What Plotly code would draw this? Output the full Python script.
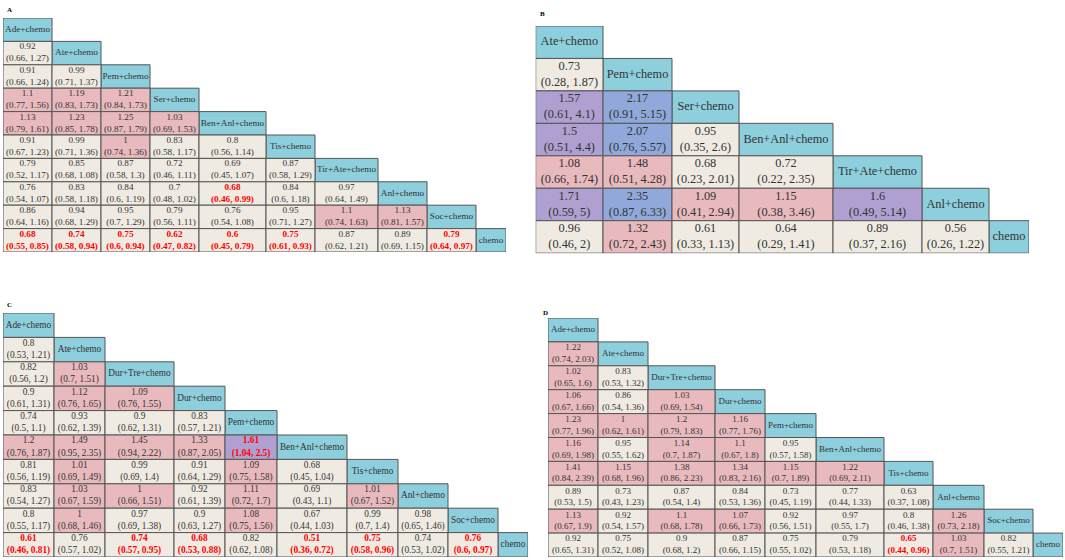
import plotly.graph_objects as go

# ---------------- DATA ----------------
A_trt = ["Ade+chemo", "Ate+chemo", "Pem+chemo", "Ser+chemo", "Ben+Anl+chemo",
         "Tis+chemo", "Tir+Ate+chemo", "Anl+chemo", "Soc+chemo", "chemo"]
A_hr = [[0.92],
        [0.91, 0.99],
        [1.1, 1.19, 1.21],
        [1.13, 1.23, 1.25, 1.03],
        [0.91, 0.99, 1, 0.83, 0.8],
        [0.79, 0.85, 0.87, 0.72, 0.69, 0.87],
        [0.76, 0.83, 0.84, 0.7, 0.68, 0.84, 0.97],
        [0.86, 0.94, 0.95, 0.79, 0.76, 0.95, 1.1, 1.13],
        [0.68, 0.74, 0.75, 0.62, 0.6, 0.75, 0.87, 0.89, 0.79]]
A_lo = [[0.66],
        [0.66, 0.71],
        [0.77, 0.83, 0.84],
        [0.79, 0.85, 0.87, 0.69],
        [0.67, 0.71, 0.74, 0.58, 0.56],
        [0.52, 0.68, 0.58, 0.46, 0.45, 0.58],
        [0.54, 0.58, 0.6, 0.48, 0.46, 0.6, 0.64],
        [0.64, 0.68, 0.7, 0.56, 0.54, 0.71, 0.74, 0.81],
        [0.55, 0.58, 0.6, 0.47, 0.45, 0.61, 0.62, 0.69, 0.64]]
A_hi = [[1.27],
        [1.24, 1.37],
        [1.56, 1.73, 1.73],
        [1.61, 1.78, 1.79, 1.53],
        [1.23, 1.36, 1.36, 1.17, 1.14],
        [1.17, 1.08, 1.3, 1.11, 1.07, 1.29],
        [1.07, 1.18, 1.19, 1.02, 0.99, 1.18, 1.49],
        [1.16, 1.29, 1.29, 1.11, 1.08, 1.27, 1.63, 1.57],
        [0.85, 0.94, 0.94, 0.82, 0.79, 0.93, 1.21, 1.15, 0.97]]

B_trt = ["Ate+chemo", "Pem+chemo", "Ser+chemo", "Ben+Anl+chemo",
         "Tir+Ate+chemo", "Anl+chemo", "chemo"]
B_hr = [[0.73],
        [1.57, 2.17],
        [1.5, 2.07, 0.95],
        [1.08, 1.48, 0.68, 0.72],
        [1.71, 2.35, 1.09, 1.15, 1.6],
        [0.96, 1.32, 0.61, 0.64, 0.89, 0.56]]
B_lo = [[0.28],
        [0.61, 0.91],
        [0.51, 0.76, 0.35],
        [0.66, 0.51, 0.23, 0.22],
        [0.59, 0.87, 0.41, 0.38, 0.49],
        [0.46, 0.72, 0.33, 0.29, 0.37, 0.26]]
B_hi = [[1.87],
        [4.1, 5.15],
        [4.4, 5.57, 2.6],
        [1.74, 4.28, 2.01, 2.35],
        [5, 6.33, 2.94, 3.46, 5.14],
        [2, 2.43, 1.13, 1.41, 2.16, 1.22]]

C_trt = ["Ade+chemo", "Ate+chemo", "Dur+Tre+chemo", "Dur+chemo", "Pem+chemo",
         "Ben+Anl+chemo", "Tis+chemo", "Anl+chemo", "Soc+chemo", "chemo"]
C_hr = [[0.8],
        [0.82, 1.03],
        [0.9, 1.12, 1.09],
        [0.74, 0.93, 0.9, 0.83],
        [1.2, 1.49, 1.45, 1.33, 1.61],
        [0.81, 1.01, 0.99, 0.91, 1.09, 0.68],
        [0.83, 1.03, 1, 0.92, 1.11, 0.69, 1.01],
        [0.8, 1, 0.97, 0.9, 1.08, 0.67, 0.99, 0.98],
        [0.61, 0.76, 0.74, 0.68, 0.82, 0.51, 0.75, 0.74, 0.76]]
C_lo = [[0.53],
        [0.56, 0.7],
        [0.61, 0.76, 0.76],
        [0.5, 0.62, 0.62, 0.57],
        [0.76, 0.95, 0.94, 0.87, 1.04],
        [0.56, 0.69, 0.69, 0.64, 0.75, 0.45],
        [0.54, 0.67, 0.66, 0.61, 0.72, 0.43, 0.67],
        [0.55, 0.68, 0.69, 0.63, 0.75, 0.44, 0.7, 0.65],
        [0.46, 0.57, 0.57, 0.53, 0.62, 0.36, 0.58, 0.53, 0.6]]
C_hi = [[1.21],
        [1.2, 1.51],
        [1.31, 1.65, 1.55],
        [1.1, 1.39, 1.31, 1.21],
        [1.87, 2.35, 2.22, 2.05, 2.5],
        [1.19, 1.49, 1.4, 1.29, 1.58, 1.04],
        [1.27, 1.59, 1.51, 1.39, 1.7, 1.1, 1.52],
        [1.17, 1.46, 1.38, 1.27, 1.56, 1.03, 1.4, 1.46],
        [0.81, 1.02, 0.95, 0.88, 1.08, 0.72, 0.96, 1.02, 0.97]]

D_trt = ["Ade+chemo", "Ate+chemo", "Dur+Tre+chemo", "Dur+chemo", "Pem+chemo",
         "Ben+Anl+chemo", "Tis+chemo", "Anl+chemo", "Soc+chemo", "chemo"]
D_hr = [[1.22],
        [1.02, 0.83],
        [1.06, 0.86, 1.03],
        [1.23, 1, 1.2, 1.16],
        [1.16, 0.95, 1.14, 1.1, 0.95],
        [1.41, 1.15, 1.38, 1.34, 1.15, 1.22],
        [0.89, 0.73, 0.87, 0.84, 0.73, 0.77, 0.63],
        [1.13, 0.92, 1.1, 1.07, 0.92, 0.97, 0.8, 1.26],
        [0.92, 0.75, 0.9, 0.87, 0.75, 0.79, 0.65, 1.03, 0.82]]
D_lo = [[0.74],
        [0.65, 0.53],
        [0.67, 0.54, 0.69],
        [0.77, 0.62, 0.79, 0.77],
        [0.69, 0.55, 0.7, 0.67, 0.57],
        [0.84, 0.68, 0.86, 0.83, 0.7, 0.69],
        [0.53, 0.43, 0.54, 0.53, 0.45, 0.44, 0.37],
        [0.67, 0.54, 0.68, 0.66, 0.56, 0.55, 0.46, 0.73],
        [0.65, 0.52, 0.68, 0.66, 0.55, 0.53, 0.44, 0.7, 0.55]]
D_hi = [[2.03],
        [1.6, 1.32],
        [1.66, 1.36, 1.54],
        [1.96, 1.61, 1.83, 1.76],
        [1.98, 1.62, 1.87, 1.8, 1.58],
        [2.39, 1.96, 2.23, 2.16, 1.89, 2.11],
        [1.5, 1.23, 1.4, 1.36, 1.19, 1.33, 1.08],
        [1.9, 1.57, 1.78, 1.73, 1.51, 1.7, 1.38, 2.18],
        [1.31, 1.08, 1.2, 1.15, 1.02, 1.18, 0.96, 1.51, 1.21]]

# ---------------- STYLE / LAYOUT ----------------
W, H = 1065, 560
FONT = "Liberation Serif"
HEADER_FILL = "#8dcfdd"
BEIGE = "#efebe2"
PINK = "#e9babd"
PURPLE = "#b0a0d1"
BLUE = "#90a9da"
GRID = "#555555"
TXT = "#333333"
RED = "#ff0000"


def cell_fill(v):
    if v < 1:
        return BEIGE
    if v < 1.5:
        return PINK
    if v < 2:
        return PURPLE
    return BLUE


panels = [
    dict(name="A", trt=A_trt, hr=A_hr, lo=A_lo, hi=A_hi, left=3, top=18, rh=23.4,
         widths=[49, 49, 49, 49, 67, 49, 63, 49, 49, 30], fs=9.2, lab=(5, 10)),
    dict(name="B", trt=B_trt, hr=B_hr, lo=B_lo, hi=B_hi, left=535.7, top=26, rh=32.45,
         widths=[67.3, 69, 67, 94, 89, 67, 40], fs=12.3, lab=(538, 14)),
    dict(name="C", trt=C_trt, hr=C_hr, lo=C_lo, hi=C_hi, left=3, top=313, rh=24.4,
         widths=[51, 51, 69, 51, 52, 70, 51, 50, 50, 30], fs=9.3, lab=(5, 305)),
    dict(name="D", trt=D_trt, hr=D_hr, lo=D_lo, hi=D_hi, left=548, top=318, rh=23.9,
         widths=[50, 50, 67, 50, 51, 68, 49, 51, 49, 30], fs=9.0, lab=(541, 313)),
]

fig = go.Figure()
shapes = []
annotations = []
layout_axes = {}

for k, p in enumerate(panels, start=1):
    sfx = "" if k == 1 else str(k)
    xref, yref = "x" + sfx, "y" + sfx
    n = len(p["trt"])
    edges = [0.0]
    for w in p["widths"]:
        edges.append(edges[-1] + w)
    total_w = edges[-1]
    x0p = p["left"] / W
    x1p = (p["left"] + total_w) / W
    y1p = 1 - p["top"] / H
    y0p = 1 - (p["top"] + n * p["rh"]) / H
    layout_axes["xaxis" + sfx] = dict(domain=[x0p, x1p], range=[0, total_w], visible=False,
                                      fixedrange=True, anchor=yref)
    layout_axes["yaxis" + sfx] = dict(domain=[y0p, y1p], range=[n, 0], visible=False,
                                      fixedrange=True, anchor=xref)

    tx, ty, tt, tc = [], [], [], []
    # header (diagonal) cells
    for i, name in enumerate(p["trt"]):
        shapes.append(dict(type="rect", xref=xref, yref=yref, x0=edges[i], x1=edges[i + 1],
                           y0=i, y1=i + 1, fillcolor=HEADER_FILL,
                           line=dict(color=GRID, width=1), layer="below"))
        tx.append((edges[i] + edges[i + 1]) / 2)
        ty.append(i + 0.5)
        tt.append(name)
        tc.append(TXT)
    # comparison cells (lower triangle)
    for i in range(1, n):
        for j in range(i):
            v = p["hr"][i - 1][j]
            lo = p["lo"][i - 1][j]
            hi = p["hi"][i - 1][j]
            shapes.append(dict(type="rect", xref=xref, yref=yref, x0=edges[j], x1=edges[j + 1],
                               y0=i, y1=i + 1, fillcolor=cell_fill(v),
                               line=dict(color=GRID, width=1), layer="below"))
            s = f"{v:g}<br>({lo:g}, {hi:g})"
            sig = hi < 1 or lo > 1
            if sig:
                s = f"<b>{v:g}<br>({lo:g}, {hi:g})</b>"
            tx.append((edges[j] + edges[j + 1]) / 2)
            ty.append(i + 0.5)
            tt.append(s)
            tc.append(RED if sig else TXT)

    fig.add_trace(go.Scatter(x=tx, y=ty, text=tt, mode="text", xaxis=xref, yaxis=yref,
                             textposition="middle center", cliponaxis=False,
                             textfont=dict(family=FONT, size=p["fs"], color=tc),
                             hoverinfo="skip", showlegend=False))
    annotations.append(dict(x=p["lab"][0] / W, y=1 - p["lab"][1] / H, xref="paper", yref="paper",
                            text=f"<b>{p['name']}</b>", showarrow=False, xanchor="left",
                            yanchor="middle", font=dict(family=FONT, size=7, color="#000")))

fig.update_layout(
    width=W, height=H, margin=dict(l=0, r=0, t=0, b=0),
    paper_bgcolor="white", plot_bgcolor="white",
    shapes=shapes, annotations=annotations, showlegend=False,
    **layout_axes,
)

fig.write_html("out.html", config={"displayModeBar": False},
               post_script="document.body.style.margin='0';document.body.style.overflow='hidden';")
